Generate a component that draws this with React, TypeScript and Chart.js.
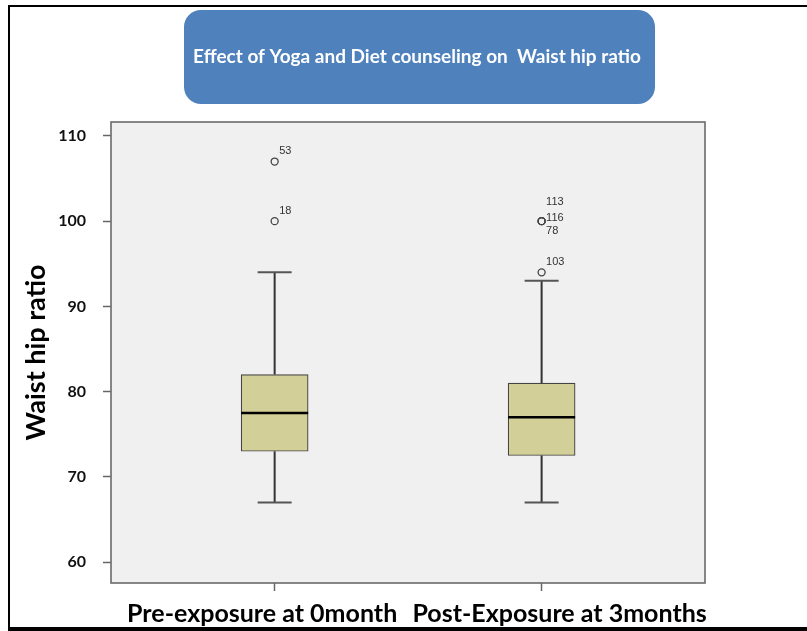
import React, { useEffect, useRef } from "react";
import { Chart, registerables } from "chart.js";

Chart.register(...registerables);

// ---------- data ----------
const CHART_TITLE = "Effect of Yoga and Diet counseling on  Waist hip ratio";
const Y_TITLE = "Waist hip ratio";
const categories = ["Pre-exposure at 0month", "Post-Exposure at 3months"];
const whiskerLow = [67, 67];
const q1 = [73, 72.5];
const median = [77.5, 77];
const q3 = [82, 81];
const whiskerHigh = [94, 93];
const outlierValues = [
  [107, 100],
  [100, 100, 100, 94],
];
const outlierIds = [
  ["53", "18"],
  ["113", "116", "78", "103"],
];
const yTicks = [60, 70, 80, 90, 100, 110];
const Y_MIN = 57.54;
const Y_MAX = 111.64;
const X_MIN = 0.387;
const X_MAX = 2.612;

const FONT = "Lato, 'Liberation Sans', Arial, sans-serif";
// horizontal nudge of each category label relative to its tick (labels are pushed apart in the original)
const LABEL_SHIFT = [-12.5, 18];

const backgroundPlugin = {
  id: "background",
  beforeDraw(chart: any) {
    const { ctx, chartArea: a, width, height } = chart;
    ctx.save();
    ctx.fillStyle = "#ffffff";
    ctx.fillRect(0, 0, width, height);
    ctx.fillStyle = "#F0F0F0";
    ctx.fillRect(a.left, a.top, a.right - a.left, a.bottom - a.top);
    // outer frame
    ctx.fillStyle = "#000000";
    ctx.fillRect(8, 5, width - 8, 2);
    ctx.fillRect(8, 5, 2, height - 5);
    ctx.fillRect(8, 627, width - 8, 4);
    // title box
    ctx.fillStyle = "#4F81BD";
    ctx.beginPath();
    (ctx as any).roundRect(184, 10, 471, 94, 17);
    ctx.fill();
    ctx.fillStyle = "#ffffff";
    ctx.font = `bold 19px ${FONT}`;
    ctx.textAlign = "center";
    ctx.textBaseline = "middle";
    ctx.fillText(CHART_TITLE, 417, 57);
    ctx.restore();
  },
  afterDraw(chart: any) {
    const { ctx, chartArea: a } = chart;
    ctx.save();
    ctx.strokeStyle = "#6a6a6a";
    ctx.lineWidth = 1.6;
    ctx.strokeRect(a.left, a.top, a.right - a.left, a.bottom - a.top);
    // category labels under the ticks
    const xs = chart.scales.x;
    ctx.fillStyle = "#000000";
    ctx.font = `bold 25px ${FONT}`;
    ctx.textAlign = "center";
    ctx.textBaseline = "alphabetic";
    categories.forEach((c, i) => {
      ctx.fillText(c, xs.getPixelForValue(i + 1) + LABEL_SHIFT[i], 622);
    });
    ctx.restore();
  },
};

const boxPlotPlugin = {
  id: "boxplotParts",
  afterDatasetsDraw(chart: any) {
    const { ctx } = chart;
    const xs = chart.scales.x;
    const ys = chart.scales.y;
    ctx.save();
    categories.forEach((_, i) => {
      const cx = xs.getPixelForValue(i + 1);
      const yLo = ys.getPixelForValue(whiskerLow[i]);
      const yQ1 = ys.getPixelForValue(q1[i]);
      const yQ3 = ys.getPixelForValue(q3[i]);
      const yHi = ys.getPixelForValue(whiskerHigh[i]);
      const yMed = ys.getPixelForValue(median[i]);
      // stems
      ctx.strokeStyle = "#333333";
      ctx.lineWidth = 2;
      ctx.beginPath();
      ctx.moveTo(cx, yQ1);
      ctx.lineTo(cx, yLo);
      ctx.moveTo(cx, yQ3);
      ctx.lineTo(cx, yHi);
      ctx.stroke();
      // caps
      ctx.strokeStyle = "#555555";
      ctx.beginPath();
      ctx.moveTo(cx - 17, yLo);
      ctx.lineTo(cx + 17, yLo);
      ctx.moveTo(cx - 17, yHi);
      ctx.lineTo(cx + 17, yHi);
      ctx.stroke();
      // median
      ctx.strokeStyle = "#000000";
      ctx.lineWidth = 2.5;
      ctx.beginPath();
      ctx.moveTo(cx - 33.5, yMed);
      ctx.lineTo(cx + 33.5, yMed);
      ctx.stroke();

      // outlier labels, grouped by value
      const groups: { v: number; ids: string[] }[] = [];
      outlierValues[i].forEach((v, k) => {
        const g = groups.find((gg) => gg.v === v);
        if (g) g.ids.push(outlierIds[i][k]);
        else groups.push({ v, ids: [outlierIds[i][k]] });
      });
      ctx.fillStyle = "#333333";
      ctx.font = "11px 'Liberation Sans', Arial, sans-serif";
      ctx.textAlign = "left";
      ctx.textBaseline = "middle";
      const stack = [-19.5, -3, 10];
      groups.forEach((g) => {
        const py = ys.getPixelForValue(g.v);
        g.ids.forEach((id, k) => {
          const dy = g.ids.length === 1 ? -10.5 : stack[k] ?? 10 + (k - 2) * 13;
          ctx.fillText(id, cx + 4.5, py + dy);
        });
      });
    });
    ctx.restore();
  },
};

export default function App() {
  const ref = useRef<HTMLCanvasElement>(null);
  useEffect(() => {
    if (!ref.current) return;
    const outlierPoints: { x: number; y: number }[] = [];
    outlierValues.forEach((vals, i) => vals.forEach((v) => outlierPoints.push({ x: i + 1, y: v })));

    const chart = new Chart(ref.current, {
      type: "bar",
      data: {
        datasets: [
          {
            type: "bar",
            label: "IQR",
            data: categories.map((_, i) => ({ x: i + 1, y: [q1[i], q3[i]] })) as any,
            backgroundColor: "#D3CF98",
            borderColor: "#444444",
            borderWidth: 1.2,
            borderSkipped: false,
            barThickness: 67,
          } as any,
          {
            type: "scatter",
            label: "Outliers",
            data: outlierPoints,
            pointRadius: 3.5,
            pointBorderColor: "#444444",
            pointBackgroundColor: "rgba(0,0,0,0)",
            pointBorderWidth: 1.3,
            showLine: false,
          } as any,
        ],
      },
      options: {
        responsive: false,
        animation: false,
        events: [],
        layout: { padding: { left: 0, right: 102, top: 122, bottom: 0 } },
        plugins: {
          legend: { display: false },
          tooltip: { enabled: false },
          title: { display: false },
        },
        scales: {
          x: {
            type: "linear",
            offset: false,
            min: X_MIN,
            max: X_MAX,
            afterFit: (s: any) => {
              s.height = 48;
            },
            afterBuildTicks: (s: any) => {
              s.ticks = categories.map((_, i) => ({ value: i + 1 }));
            },
            ticks: {
              display: false,
              autoSkip: false,
              maxRotation: 0,
              minRotation: 0,
              callback: (v: any) => categories[Math.round(Number(v)) - 1] ?? "",
            },
            grid: {
              offset: false,
              drawOnChartArea: false,
              drawTicks: true,
              tickLength: 8,
              tickColor: "#666666",
              tickWidth: 1.5,
            },
            border: { display: false },
          },
          y: {
            type: "linear",
            min: Y_MIN,
            max: Y_MAX,
            afterFit: (s: any) => {
              s.width = 111;
            },
            afterBuildTicks: (s: any) => {
              s.ticks = yTicks.map((v) => ({ value: v }));
            },
            ticks: {
              padding: 17,
              color: "#111111",
              font: { family: FONT, weight: "bold", size: 16 },
            },
            grid: {
              drawOnChartArea: false,
              drawTicks: true,
              tickLength: 8,
              tickColor: "#666666",
              tickWidth: 1.5,
            },
            border: { display: false },
            title: {
              display: true,
              text: Y_TITLE,
              color: "#000000",
              font: { family: FONT, weight: "bold", size: 27 },
              padding: { top: 20, bottom: 0 },
            },
          },
        },
      } as any,
      plugins: [backgroundPlugin, boxPlotPlugin],
    });
    return () => chart.destroy();
  }, []);

  return (
    <div style={{ position: "absolute", left: 0, top: 0, width: 807, height: 631 }}>
      <canvas ref={ref} width={807} height={631} style={{ display: "block" }} />
    </div>
  );
}
